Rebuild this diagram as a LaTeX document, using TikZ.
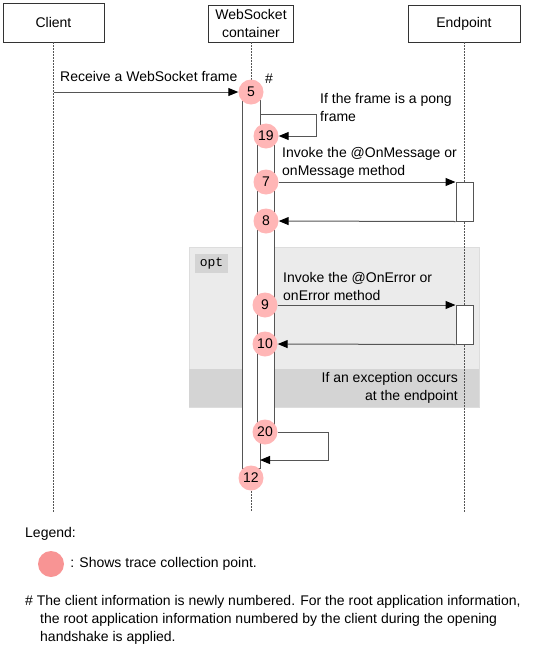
\documentclass[tikz,border=0pt]{standalone}
\usepackage{fontspec}
\setmainfont{Liberation Sans}
\setmonofont{Liberation Mono}
\usetikzlibrary{arrows.meta,positioning}

\definecolor{tpfill}{RGB}{255,182,182}
\definecolor{legfill}{RGB}{248,148,148}
\definecolor{optfill}{RGB}{235,235,235}
\definecolor{optline}{RGB}{221,221,221}
\definecolor{optband}{RGB}{212,212,212}
\definecolor{linegray}{RGB}{85,85,85}

\begin{document}
\begin{tikzpicture}[x=1pt, y=-1pt,
        font=\fontsize{14}{18}\selectfont,
        box/.style={draw=black!80, line width=0.8pt, fill=white, align=center, inner sep=0pt},
        life/.style={draw=linegray, dash pattern=on 1.5pt off 1.5pt, line width=0.8pt},
        bar/.style={draw=linegray, fill=white, line width=1pt},
        tp/.style={circle, fill=tpfill, minimum size=25pt, inner sep=0pt},
        arr/.style={-{Triangle[length=10pt,width=8pt,color=black]}, draw=linegray, line width=1pt},
        lbl/.style={anchor=west, inner sep=0pt, align=left}
    ]
    \useasboundingbox (0,0) rectangle (540,651);

    % opt fragment
    \filldraw[fill=optfill, draw=optline] (189,247) rectangle (479,407);
    \fill[optband] (189,369) rectangle (479,407);
    \node[fill=optband, minimum width=33pt, minimum height=19pt, inner sep=0pt,
        font=\ttfamily\fontsize{13}{13}\selectfont] (opt) at (211.5,263.5) {opt};
    \node[anchor=east, align=right, inner sep=0pt] (exc) at (458,388) {If an exception occurs\\at the endpoint};

    % lifeline heads
    \node[box, minimum width=101pt, minimum height=39pt] (client) at (53.5,22.5) {Client};
    \node[box, minimum width=85pt, minimum height=37pt] (wsc) at (251,23.5) {WebSocket\\container};
    \node[box, minimum width=112pt, minimum height=37pt] (endpoint) at (464,23.5) {Endpoint};

    % lifelines
    \draw[life] (client.south) -- (53.5,512);
    \draw[life] (wsc.south) -- (251,100);
    \draw[life] (251,470) -- (251,512);
    \draw[life] (endpoint.south) -- (464,512);

    % activation bars
    \draw[bar] (242,100) rectangle (260,468);
    \draw[bar] (257,130) rectangle (274,432);
    \node[bar, minimum width=17pt, minimum height=39pt, inner sep=0pt] (act1) at (464.5,201.5) {};
    \node[bar, minimum width=17pt, minimum height=39pt, inner sep=0pt] (act2) at (464.5,324.5) {};

    % trace collection points
    \node[tp] (c5) at (251,92) {5};
    \node[tp] (c19) at (266,136) {19};
    \node[tp] (c7) at (266,182) {7};
    \node[tp] (c8) at (266,221) {8};
    \node[tp] (c9) at (265,305) {9};
    \node[tp] (c10) at (265,344) {10};
    \node[tp] (c20) at (265,432) {20};
    \node[tp] (c12) at (251,478) {12};

    \coordinate (recv) at (client.south |- c5);
    \coordinate (pong) at (260,114);
    \coordinate (ret) at (260,460);

    % messages
    \draw[arr] (recv) -- (c5);
    \draw[arr] (pong) -- ++(56,0) |- (c19);
    \draw[arr] (c7) -- (c7 -| act1.west);
    \draw[arr] (act1.south west) -- (c8);
    \draw[arr] (c9) -- (c9 -| act2.west);
    \draw[arr] (act2.south west) -- (c10);
    \draw[arr] (c20) -- ++(63,0) |- (ret);

    % message labels
    \node[lbl] (recvlbl) at (60,76) {Receive a WebSocket frame};
    \node[lbl] (hash) at (265,79) {\#};
    \node[lbl] (ponglbl) at (320,107) {If the frame is a pong\\frame};
    \node[lbl] (msglbl) at (282,163) {Invoke the @OnMessage or\\onMessage method};
    \node[lbl] (errlbl) at (283,286) {Invoke the @OnError or\\onError method};

    % legend and note
    \node[lbl] (legend) at (25,534) {Legend:};
    \node[circle, fill=legfill, minimum size=26pt, inner sep=0pt] (legdot) at (51,564) {};
    \node[lbl, right=6pt of legdot] (legtxt) {: Shows trace collection point.};
    \node[lbl] (note) at (25,620) {\# The client information is newly numbered. For the root application information,\\
        \hspace*{15pt}the root application information numbered by the client during the opening\\
        \hspace*{15pt}handshake is applied.};
\end{tikzpicture}
\end{document}
